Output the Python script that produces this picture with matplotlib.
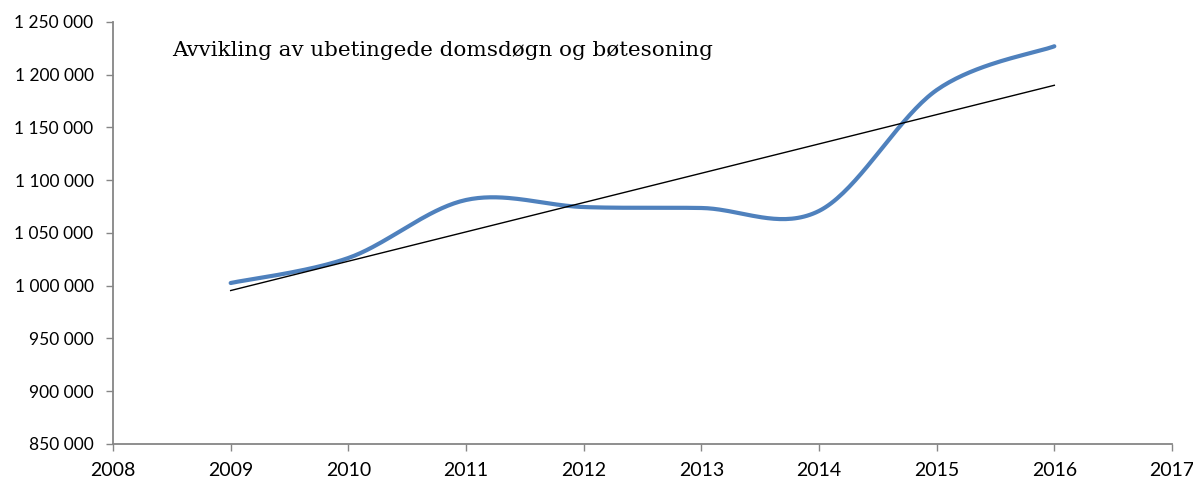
import numpy as np
import matplotlib
matplotlib.use("Agg")
import matplotlib.pyplot as plt
from matplotlib.ticker import FuncFormatter

years = [2009, 2010, 2011, 2012, 2013, 2014, 2015, 2016]
values = [1002600, 1026300, 1081300, 1074600, 1073700, 1070900, 1185500, 1227000]
title = "Avvikling av ubetingede domsdøgn og bøtesoning"


def smooth(xs, ys, n=40):
    """Excel-style smoothed line: cubic Bezier with Catmull-Rom control points."""
    P = np.column_stack([xs, ys]).astype(float)
    out = []
    for i in range(len(P) - 1):
        p0 = P[i - 1] if i > 0 else P[i]
        p1, p2 = P[i], P[i + 1]
        p3 = P[i + 2] if i + 2 < len(P) else P[i + 1]
        c1 = p1 + (p2 - p0) / 6.0
        c2 = p2 - (p3 - p1) / 6.0
        t = np.linspace(0, 1, n)[:, None]
        seg = ((1 - t) ** 3) * p1 + 3 * ((1 - t) ** 2) * t * c1 + 3 * (1 - t) * t ** 2 * c2 + t ** 3 * p2
        out.append(seg if i == 0 else seg[1:])
    S = np.vstack(out)
    return S[:, 0], S[:, 1]


plt.rcParams['font.family'] = ['Lato', 'DejaVu Sans']
fig = plt.figure(figsize=(11.93, 4.80), dpi=100)
ax = fig.add_axes([113 / 1193, 1 - 444 / 480, (1172 - 113) / 1193, (444 - 22) / 480])

sx, sy = smooth(years, values)
ax.plot(sx, sy, color='#4F81BD', lw=3.0, solid_capstyle='round', zorder=3)

coef = np.polyfit(years, values, 1)
tx = np.array([years[0], years[-1]])
ax.plot(tx, np.polyval(coef, tx), color='black', lw=1.0, zorder=4)

ax.set_xlim(2008, 2017)
ax.set_ylim(850000, 1250000)
ax.set_xticks(range(2008, 2018))
ax.set_yticks(range(850000, 1250001, 50000))
ax.yaxis.set_major_formatter(FuncFormatter(lambda v, p: f"{int(v):,}".replace(",", " ")))

for s in ['top', 'right']:
    ax.spines[s].set_visible(False)
for s in ['left', 'bottom']:
    ax.spines[s].set_color('#868686')
    ax.spines[s].set_linewidth(1.3)
ax.tick_params(axis='both', colors='#868686', length=5, width=1.0, labelcolor='black')
ax.tick_params(axis='x', pad=8, labelsize=14)
ax.tick_params(axis='y', pad=9, labelsize=12.5)

fig.text(172 / 1193, 1 - 51 / 480, title, family=['DejaVu Serif'],
         fontsize=15.4, va='center', ha='left', color='black')

fig.savefig('out.png', dpi=100)
